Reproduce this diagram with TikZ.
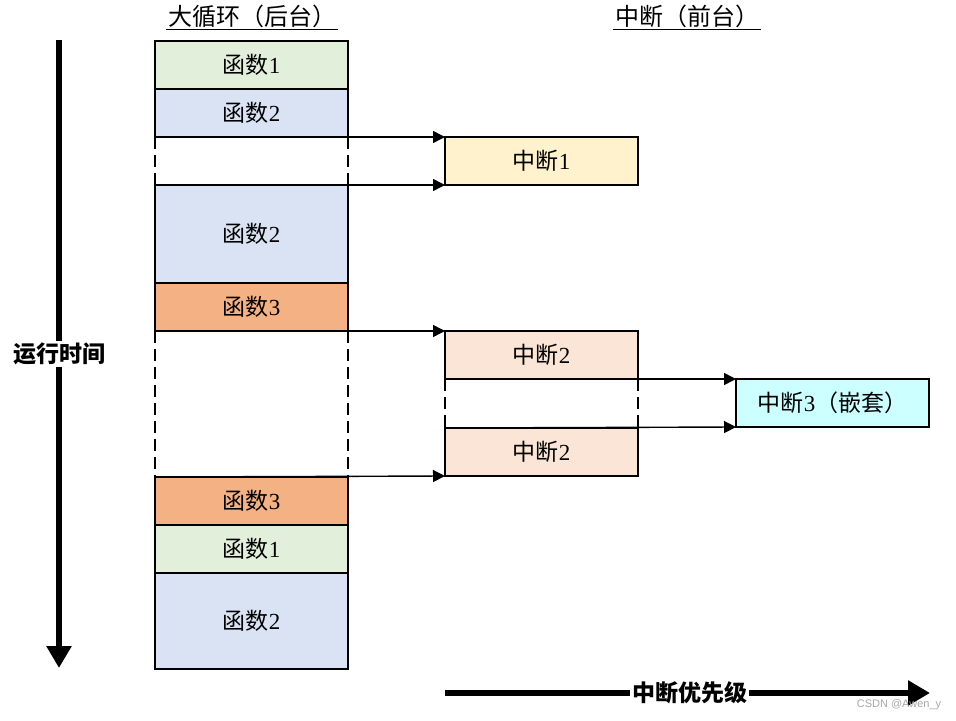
\documentclass[tikz,border=0pt]{standalone}
\usepackage{fontspec}
\setmainfont{Liberation Serif}
\newfontfamily\cjk{Noto Sans CJK SC}
\newfontfamily\wmfont{Liberation Sans}
\usepackage{tikz}
\usetikzlibrary{arrows,arrows.meta}

\definecolor{fgreen}{HTML}{E2EFDA}
\definecolor{fblue}{HTML}{DAE3F3}
\definecolor{forange}{HTML}{F4B183}
\definecolor{iyellow}{HTML}{FFF2CC}
\definecolor{ipeach}{HTML}{FBE5D6}
\definecolor{icyan}{HTML}{CCFFFF}

\newcommand\zh[1]{{\cjk #1}}

\begin{document}
\begin{tikzpicture}[x=0.5pt, y=-0.5pt,
                    line cap=butt, line join=miter,
                    box/.style={draw=black, line width=0.75pt, anchor=north west,
                                minimum width=96.5pt, inner sep=0pt, outer sep=0pt,
                                font=\fontsize{11.5}{13}\selectfont},
                    gapline/.style={line width=0.75pt, dash pattern=on 6pt off 3pt},
                    jump/.style={line width=0.7pt, -{Triangle[length=6pt,width=6pt]}},
                    bigarrow/.style={line width=3pt, -{Triangle[length=11pt,width=12pt]}},
                    title/.style={inner sep=1pt, font=\fontsize{12}{14}\selectfont},
                    axislabel/.style={fill=white, inner sep=1pt,
                                      font=\fontsize{11.5}{14}\selectfont\bfseries}]
  \useasboundingbox (0,0) rectangle (956,721);

  % titles
  \node[title] (bg) at (252,16) {\zh{大循环（后台）}};
  \node[title] (fg) at (687,16) {\zh{中断（前台）}};
  \draw[line width=0.6pt] (bg.south west) -- (bg.south east);
  \draw[line width=0.6pt] (fg.south west) -- (fg.south east);

  % background loop
  \node[box, fill=fgreen,  minimum height=24pt] (f1) at (155,41)  {\zh{函数}1};
  \node[box, fill=fblue,   minimum height=24pt] (f2) at (155,89)  {\zh{函数}2};
  \node[box, fill=fblue,   minimum height=49pt] (f3) at (155,185) {\zh{函数}2};
  \node[box, fill=forange, minimum height=24pt] (f4) at (155,283) {\zh{函数}3};
  \node[box, fill=forange, minimum height=24pt] (f5) at (155,477) {\zh{函数}3};
  \node[box, fill=fgreen,  minimum height=24pt] (f6) at (155,525) {\zh{函数}1};
  \node[box, fill=fblue,   minimum height=48pt] (f7) at (155,573) {\zh{函数}2};

  % interrupts
  \node[box, fill=iyellow, minimum height=24pt] (i1) at (445,137) {\zh{中断}1};
  \node[box, fill=ipeach,  minimum height=24pt] (i2) at (445,331) {\zh{中断}2};
  \node[box, fill=ipeach,  minimum height=24pt] (i2b) at (445,428) {\zh{中断}2};
  \node[box, fill=icyan,   minimum height=24pt] (i3) at (736,379) {\zh{中断}3\zh{（嵌套）}};

  % suspended parts
  \draw[gapline] (f2.south west) -- (f3.north west);
  \draw[gapline] (f2.south east) -- (f3.north east);
  \draw[gapline] (f4.south west) -- (f5.north west);
  \draw[gapline] (f4.south east) -- (f5.north east);
  \draw[gapline] (i2.south west) -- (i2b.north west);
  \draw[gapline] (i2.south east) -- (i2b.north east);

  % enter / return
  \draw[jump] (f2.south west) -- (i1.north west);
  \draw[jump] (f3.north west) -- (i1.south west);
  \draw[jump] (f4.south west) -- (i2.north west);
  \draw[jump] (f5.north west) -- (i2b.south west);
  \draw[jump] (i2.south west) -- (i3.north west);
  \draw[jump] (i2b.north west) -- (i3.south west);

  % axes
  \coordinate (ttop) at (59,40);
  \coordinate (tbot) at (59,668);
  \coordinate (pleft) at (445,693);
  \coordinate (pright) at (930,693);
  \draw[bigarrow] (ttop) -- (tbot) node[axislabel, pos=0.5] {\zh{运行时间}};
  \draw[bigarrow] (pleft) -- (pright) node[axislabel, pos=0.505] {\zh{中断优先级}};

  \node[text=gray!70, font=\wmfont\fontsize{5.5}{6}\selectfont] (wm) at (899,705) {CSDN @Awen\_y};
\end{tikzpicture}
\end{document}
